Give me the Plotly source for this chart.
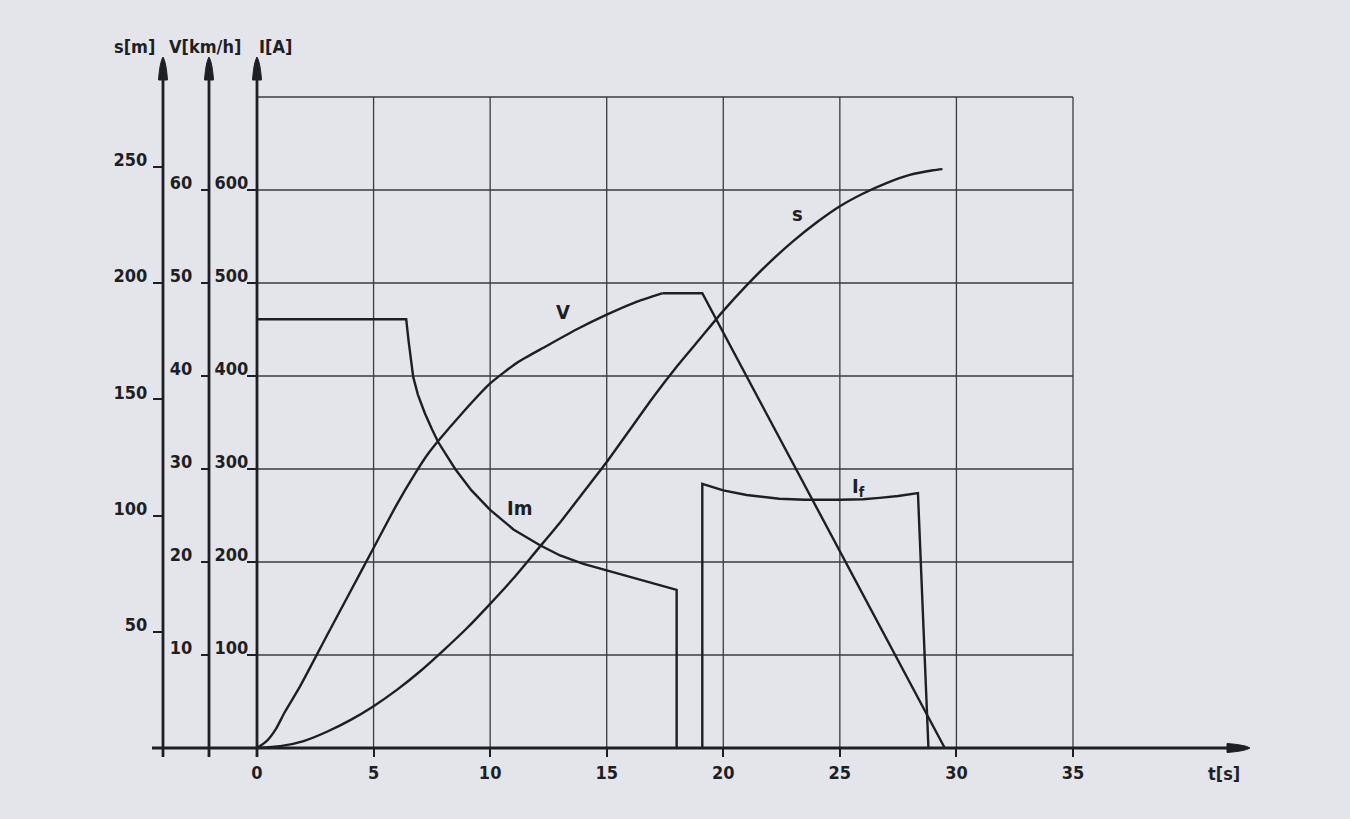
import plotly.graph_objects as go

# ---------------- data ----------------
t_ticks = [0, 5, 10, 15, 20, 25, 30, 35]
i_ticks = [100, 200, 300, 400, 500, 600]
v_ticks = [10, 20, 30, 40, 50, 60]
s_ticks = [50, 100, 150, 200, 250]
grid_t = [0, 5, 10, 15, 20, 25, 30, 35]
grid_i = [100, 200, 300, 400, 500, 600, 700]

# motor current Im [A]
t_Im = [0, 6.4, 6.5, 6.6, 6.7, 6.9, 7.2, 7.5, 7.77, 8.5, 9.2, 10.0, 11.0, 12.14,
        13.0, 14.0, 15.0, 16.0, 17.0, 18.0, 18.0]
Im = [461, 461, 438, 417, 399, 380, 360, 343, 329, 300, 277, 256, 235, 218,
      207, 198, 191, 184, 177, 170, 0]

# braking current If [A]
t_If = [19.1, 19.1, 20.0, 21.0, 22.4, 23.5, 25.0, 26.0, 26.7, 27.5, 28.35, 28.8]
If = [0, 284, 277, 272, 268, 267, 267, 267.5, 269, 271, 274, 0]

# speed V [km/h] : acceleration part, then plateau and braking
t_V_acc = [0, 0.4, 0.8, 1.2, 1.84, 3.0, 4.0, 5.0, 6.0, 6.78, 7.3, 7.77, 8.8,
           10.0, 11.2, 12.4, 13.7, 15.0, 16.2, 17.4]
V_acc = [0, 0.7, 2.0, 3.9, 6.6, 12.1, 16.8, 21.5, 26.2, 29.5, 31.5, 33.0, 36.0,
         39.2, 41.5, 43.2, 45.0, 46.6, 47.9, 48.9]
t_V_brk = [17.4, 19.1, 29.5]
V_brk = [48.9, 48.9, 0]

# distance s [m]
t_s = [0, 1, 2, 3, 4, 5, 6, 7, 8, 9, 10, 11, 12, 13, 14, 15, 16, 17, 18, 19,
       20, 21, 22, 23, 24, 25, 26, 27, 28, 29, 29.4]
s = [0, 0.8, 3, 7, 12, 18, 25, 33, 42, 51.5, 62, 73, 85, 97, 110, 123, 137, 151,
     164, 176, 188, 199, 209, 218, 226, 233, 238.5, 243, 246.5, 248.5, 249]

# ---------------- geometry ----------------
W, H = 1350, 819
X0_PX, PX_PER_S = 257, 23.314        # t=0 position, px per second
Y0_PX, PX_PER_A = 748, 0.93          # baseline, px per ampere
t_range = [(0 - X0_PX) / PX_PER_S, (W - X0_PX) / PX_PER_S]
i_range = [(Y0_PX - H) / PX_PER_A, (Y0_PX - 0) / PX_PER_A]
v_range = [r / 10 for r in i_range]      # 10 km/h  <-> 100 A
s_range = [r * 0.4 for r in i_range]     # 50 m     <-> 125 A


def px(x):
    return x / W


def py(y):
    return 1 - y / H


INK = "#1e1f24"
GRID = "#3a3b40"
BG = "#e3e5ea"
FONT = "DejaVu Sans Condensed, DejaVu Sans, sans-serif"

fig = go.Figure()
line = dict(color=INK, width=2.4)
fig.add_trace(go.Scatter(x=t_Im, y=Im, mode="lines", line=line, yaxis="y", hoverinfo="skip"))
fig.add_trace(go.Scatter(x=t_If, y=If, mode="lines", line=line, yaxis="y", hoverinfo="skip"))
fig.add_trace(go.Scatter(x=t_V_acc, y=V_acc, mode="lines",
                         line=dict(line, shape="spline", smoothing=0.6),
                         yaxis="y2", hoverinfo="skip"))
fig.add_trace(go.Scatter(x=t_V_brk, y=V_brk, mode="lines", line=line,
                         yaxis="y2", hoverinfo="skip"))
fig.add_trace(go.Scatter(x=t_s, y=s, mode="lines", line=dict(line, shape="spline", smoothing=0.6),
                         yaxis="y3", hoverinfo="skip"))

shapes = []
# grid
for tv in grid_t[1:]:
    shapes.append(dict(type="line", xref="x", yref="y", x0=tv, x1=tv, y0=0, y1=grid_i[-1],
                       line=dict(color=GRID, width=1.3), layer="below"))
for iv in grid_i:
    shapes.append(dict(type="line", xref="x", yref="y", x0=0, x1=grid_t[-1], y0=iv, y1=iv,
                       line=dict(color=GRID, width=1.3), layer="below"))

# vertical axis lines with arrowheads (s, V, I)
axis_x_px = [163, 209, 257]
tip_y_px = 57
for ax in axis_x_px:
    shapes.append(dict(type="line", xref="paper", yref="paper", x0=px(ax), x1=px(ax),
                       y0=py(757), y1=py(tip_y_px + 18), line=dict(color=INK, width=2.8)))
    shapes.append(dict(type="path", xref="paper", yref="paper",
                       xsizemode="pixel", ysizemode="pixel", xanchor=px(ax), yanchor=py(tip_y_px),
                       path="M -4.5,-23 Q -3.2,-5 0,0 Q 3.2,-5 4.5,-23 Z",
                       fillcolor=INK, line=dict(color=INK, width=1)))
# t axis with arrowhead
tip_x_px = 1250
shapes.append(dict(type="line", xref="paper", yref="paper", x0=px(152), x1=px(tip_x_px - 18),
                   y0=py(Y0_PX), y1=py(Y0_PX), line=dict(color=INK, width=2.8)))
shapes.append(dict(type="path", xref="paper", yref="paper",
                   xsizemode="pixel", ysizemode="pixel", xanchor=px(tip_x_px), yanchor=py(Y0_PX),
                   path="M -23,-4.5 Q -5,-3.2 0,0 Q -5,3.2 -23,4.5 Z",
                   fillcolor=INK, line=dict(color=INK, width=1)))

tickfont = dict(family=FONT, size=18, color=INK, weight="bold")
labfont = dict(family=FONT, size=20, color=INK, weight="bold")


def lab(text, x, y, ref, font):
    xr, yr = ("x", "y") if ref == "data" else ("paper", "paper")
    return dict(text=text, x=x, y=y, xref=xr, yref=yr, showarrow=False, font=font,
                xanchor="center", yanchor="middle")


annotations = [
    lab("V", 13.13, 468.8, "data", labfont),
    lab("Im", 11.24, 258, "data", labfont),
    lab("s", 23.2, 574, "data", labfont),
    lab("I<sub>f</sub>", 25.78, 281, "data", labfont),
    lab("s[m]", px(134), py(46), "paper", tickfont),
    lab("V[km/h]", px(205), py(46), "paper", tickfont),
    lab("I[A]", px(275), py(46), "paper", tickfont),
    lab("t[s]", px(1224), py(773), "paper", tickfont),
]

common_y = dict(showgrid=False, zeroline=False, showline=False, ticks="outside",
                tickwidth=1.5, tickcolor=INK, tickfont=tickfont, anchor="free",
                automargin=False, side="left", fixedrange=True, ticklabelshift=-7)

fig.update_layout(
    width=W, height=H, margin=dict(l=0, r=0, t=0, b=0),
    paper_bgcolor=BG, plot_bgcolor=BG, showlegend=False,
    xaxis=dict(domain=[0, 1], range=t_range, tickvals=t_ticks, showgrid=False, zeroline=False,
               showline=False, ticks="outside", ticklen=8, tickwidth=1.5, tickcolor=INK,
               tickfont=tickfont, anchor="free", position=py(Y0_PX), automargin=False,
               fixedrange=True),
    yaxis=dict(common_y, domain=[0, 1], range=i_range, tickvals=i_ticks, ticklen=10,
               position=px(257), ticklabelstandoff=-5),
    yaxis2=dict(common_y, overlaying="y", range=v_range, tickvals=v_ticks, ticklen=8,
                position=px(209), ticklabelstandoff=5),
    yaxis3=dict(common_y, overlaying="y", range=s_range, tickvals=s_ticks, ticklen=10,
                position=px(163), ticklabelstandoff=2),
    shapes=shapes, annotations=annotations,
)

fig.write_html("out.html", config={"displayModeBar": False},
               post_script="document.body.style.margin='0px';")
